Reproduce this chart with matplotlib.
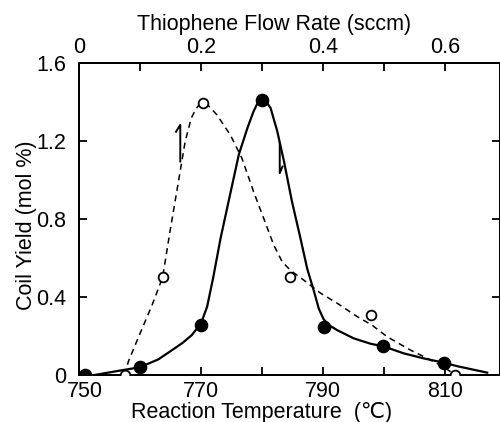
import matplotlib
matplotlib.use("Agg")
import matplotlib.pyplot as plt
import matplotlib.transforms as mtransforms

plt.rcParams['font.family'] = ['Liberation Sans', 'DejaVu Sans']

# Filled circles: yield vs reaction temperature (bottom axis)
temp_T = [751, 760, 770, 780, 790.2, 799.8, 809.8]
temp_y = [0.0, 0.04, 0.255, 1.41, 0.248, 0.15, 0.063]
# hand-drawn solid curve
temp_curve_T = [752.5, 760, 763, 765, 767, 768.5, 770, 771, 772, 773.2, 774.8, 776.2,
                777.6, 778.6, 779.3, 780, 780.7, 781.4, 782.5, 783.6, 784.9, 786.3,
                787.4, 788.5, 789.3, 790.1, 791, 792.3, 795, 797.8, 800, 803.2,
                806.5, 809.8, 812, 816.9]
temp_curve_y = [0.0, 0.04, 0.08, 0.122, 0.165, 0.205, 0.265, 0.35, 0.50, 0.70, 0.93, 1.13,
                1.265, 1.35, 1.395, 1.41, 1.40, 1.368, 1.248, 1.094, 0.889, 0.70,
                0.545, 0.43, 0.34, 0.285, 0.255, 0.23, 0.188, 0.16, 0.146, 0.111,
                0.085, 0.063, 0.045, 0.012]

# Open circles: yield vs thiophene flow rate (top axis)
flow_F = [0.075, 0.137, 0.203, 0.345, 0.479, 0.617]
flow_y = [0.0, 0.50, 1.395, 0.50, 0.305, 0.0]
flow_curve_F = [0.075, 0.081, 0.101, 0.120, 0.137, 0.150, 0.163, 0.174, 0.184, 0.191,
                0.197, 0.203, 0.212, 0.226, 0.248, 0.267, 0.286, 0.303, 0.319, 0.333,
                0.347, 0.368, 0.396, 0.423, 0.456, 0.480, 0.505, 0.543, 0.571, 0.592,
                0.609]
flow_curve_y = [0.0, 0.07, 0.22, 0.36, 0.50, 0.752, 0.991, 1.196, 1.316, 1.36,
                1.385, 1.395, 1.38, 1.333, 1.23, 1.111, 0.94, 0.80, 0.667, 0.58,
                0.535, 0.487, 0.419, 0.368, 0.299, 0.256, 0.196, 0.128, 0.085, 0.051,
                0.017]

FS = 15.5

fig = plt.figure(figsize=(5.0, 4.22), dpi=100)
ax = fig.add_axes([0.158, 0.1114, 0.842, 0.74])
ax.set_xlim(750, 819)
ax.set_ylim(0, 1.6)

ax.plot(temp_curve_T, temp_curve_y, color='black', lw=1.6, zorder=2,
        solid_joinstyle='round')
ax.plot(temp_T, temp_y, 'o', color='black', ms=8.8, zorder=4)

ax2 = ax.twiny()
ax2.set_xlim(0, 0.69)
ax2.plot(flow_curve_F, flow_curve_y, color='black', lw=1.1, ls=(0, (4, 3)), zorder=2)
ax2.plot(flow_F, flow_y, 'o', mfc='white', mec='black', mew=1.3, ms=7.0, zorder=4)

# axis-indicating half arrows
ax2.plot([0.166, 0.166, 0.159], [1.094, 1.282, 1.246], color='black', lw=1.4)
ax.plot([782.9, 782.9, 783.35], [1.188, 1.034, 1.068], color='black', lw=1.4)

ax.set_xticks([750, 770, 790, 810])
ax.set_xticks([760, 780, 800], minor=True)
ax.set_yticks([0, 0.4, 0.8, 1.2, 1.6])
ax.set_yticklabels(['0', '0.4', '0.8', '1.2', '1.6'])
ax2.set_xticks([0, 0.2, 0.4, 0.6])
ax2.set_xticklabels(['0', '0.2', '0.4', '0.6'])
ax2.set_xticks([0.1, 0.3, 0.5], minor=True)

for a in (ax, ax2):
    a.tick_params(which='both', direction='in', labelsize=FS, width=1.3, length=5.5)
    for s in a.spines.values():
        s.set_linewidth(1.4)
ax.tick_params(axis='x', which='major', pad=4)
ax.tick_params(axis='y', which='major', pad=9)
ax2.tick_params(axis='x', which='major', pad=3.2)
ax.tick_params(axis='y', right=True, which='both')

# first bottom tick label sits a little to the right in the reference
lbl750 = ax.get_xticklabels()[0]
lbl750.set_transform(lbl750.get_transform() +
                     mtransforms.ScaledTranslation(6 / 100, 0, fig.dpi_scale_trans))

ax.set_xlabel('Reaction Temperature  (\u2103)', fontsize=FS)
ax.xaxis.set_label_coords(0.433, -0.086)
ax.set_ylabel('Coil Yield (mol %)', fontsize=FS)
ax.yaxis.set_label_coords(-0.100, 0.478)
ax2.set_xlabel('Thiophene Flow Rate (sccm)', fontsize=FS)
ax2.xaxis.set_label_coords(0.464, 1.105)

fig.savefig('out.png', dpi=100)
